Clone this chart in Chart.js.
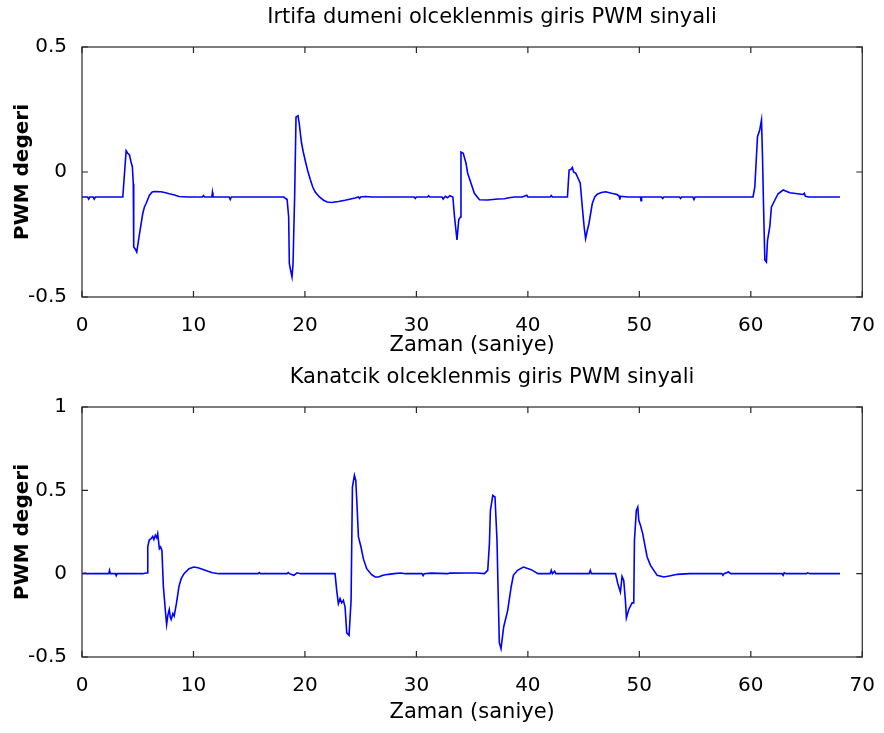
<!DOCTYPE html>
<html>
<head>
<meta charset="utf-8">
<script src="https://cdn.jsdelivr.net/npm/chart.js@4.4.1/dist/chart.umd.min.js"></script>
<style>
  body { margin: 0; background: #fff; }
  .panel { position: absolute; left: 0; width: 884px; }
</style>
</head>
<body>
<div class="panel" style="top:0;height:366px"><canvas id="topChart" width="884" height="366"></canvas></div>
<div class="panel" style="top:366px;height:367px"><canvas id="bottomChart" width="884" height="367"></canvas></div>
<script>
// Irtifa dumeni (elevator) - time in seconds, scaled PWM
const topTime = [0, 0.5, 0.6, 0.7, 1.0, 1.1, 1.2, 3.66, 3.96, 4.1, 4.26, 4.4, 4.52, 4.6, 4.64, 4.8, 4.91, 5.15, 5.45, 5.6, 5.75, 6.05, 6.3, 6.49, 7.08, 7.5, 7.83, 8.3, 8.7, 9.5, 10.8, 10.9, 11.0, 11.65, 11.7, 11.75, 13.2, 13.3, 13.4, 18.1, 18.4, 18.54, 18.6, 18.7, 18.84, 18.93, 19.08, 19.2, 19.38, 19.5, 19.6, 19.7, 19.85, 20.03, 20.25, 20.48, 20.7, 20.92, 21.3, 21.67, 22.0, 22.4, 23.0, 23.6, 24.5, 24.8, 24.9, 25.0, 25.4, 26.0, 29.8, 29.9, 30.0, 31.0, 31.1, 31.2, 32.3, 32.4, 32.6, 32.8, 33.0, 33.27, 33.42, 33.64, 33.8, 33.95, 34.0, 34.2, 34.45, 34.6, 34.9, 35.2, 35.66, 36.4, 37.3, 37.9, 38.3, 38.8, 39.5, 39.9, 40.0, 42.0, 42.1, 42.2, 43.55, 43.7, 43.85, 43.99, 44.1, 44.3, 44.7, 44.88, 45.05, 45.18, 45.3, 45.48, 45.78, 46.0, 46.22, 46.6, 46.97, 47.5, 48.0, 48.2, 48.25, 48.3, 49.0, 50.1, 50.15, 50.2, 52.0, 52.1, 52.2, 53.6, 53.7, 53.8, 54.8, 54.9, 55.0, 60.04, 60.2, 60.36, 60.6, 60.8, 60.96, 61.05, 61.15, 61.26, 61.4, 61.5, 61.7, 61.85, 62.15, 62.45, 62.9, 63.5, 64.2, 64.7, 64.8, 64.9, 65.2, 68.0];
const topPwm = [-0.1, -0.1, -0.108, -0.1, -0.1, -0.108, -0.1, -0.1, 0.085, 0.075, 0.068, 0.04, 0.02, -0.047, -0.3, -0.31, -0.32, -0.25, -0.166, -0.14, -0.126, -0.093, -0.08, -0.078, -0.079, -0.083, -0.087, -0.092, -0.098, -0.1, -0.1, -0.094, -0.1, -0.1, -0.082, -0.1, -0.1, -0.11, -0.1, -0.1, -0.11, -0.18, -0.366, -0.39, -0.42, -0.37, -0.09, 0.22, 0.225, 0.19, 0.15, 0.115, 0.08, 0.045, 0.005, -0.03, -0.06, -0.08, -0.1, -0.113, -0.12, -0.122, -0.118, -0.113, -0.104, -0.1, -0.106, -0.1, -0.098, -0.1, -0.1, -0.106, -0.1, -0.1, -0.095, -0.1, -0.1, -0.108, -0.097, -0.103, -0.095, -0.1, -0.18, -0.272, -0.19, -0.18, 0.08, 0.075, 0.035, -0.005, -0.045, -0.085, -0.111, -0.112, -0.108, -0.107, -0.103, -0.1, -0.1, -0.093, -0.1, -0.1, -0.094, -0.1, -0.1, 0.008, 0.01, 0.018, 0.0, -0.005, -0.045, -0.139, -0.22, -0.266, -0.24, -0.206, -0.126, -0.1, -0.089, -0.082, -0.079, -0.085, -0.09, -0.097, -0.11, -0.097, -0.1, -0.1, -0.115, -0.1, -0.1, -0.106, -0.1, -0.1, -0.106, -0.1, -0.1, -0.11, -0.1, -0.1, -0.1, -0.06, 0.141, 0.168, 0.208, 0.06, -0.15, -0.352, -0.36, -0.273, -0.22, -0.14, -0.113, -0.087, -0.072, -0.083, -0.087, -0.09, -0.085, -0.097, -0.1, -0.1];

// Kanatcik (aileron)
const bottomTime = [0, 0.3, 0.5, 2.4, 2.47, 2.55, 3.0, 3.07, 3.15, 5.45, 5.84, 5.9, 6.04, 6.2, 6.34, 6.45, 6.58, 6.7, 6.79, 6.94, 7.05, 7.17, 7.3, 7.47, 7.59, 7.7, 7.83, 7.92, 8.0, 8.15, 8.27, 8.48, 8.7, 8.9, 9.15, 9.6, 10.04, 10.4, 10.8, 11.3, 11.7, 12.3, 15.8, 15.9, 16.0, 18.4, 18.5, 18.6, 19.0, 19.3, 19.6, 22.7, 22.85, 23.0, 23.15, 23.3, 23.45, 23.6, 23.75, 23.96, 24.14, 24.26, 24.44, 24.56, 24.65, 24.8, 25.03, 25.24, 25.54, 25.98, 26.3, 26.6, 27.0, 27.5, 28.0, 28.6, 29.0, 30.5, 30.6, 30.7, 31.3, 32.8, 33.0, 34.5, 35.4, 36.1, 36.4, 36.55, 36.64, 36.85, 37.05, 37.23, 37.35, 37.44, 37.59, 37.83, 38.19, 38.5, 38.7, 39.07, 39.6, 40.3, 40.9, 42.0, 42.1, 42.2, 42.4, 42.5, 45.5, 45.6, 45.7, 47.86, 48.07, 48.3, 48.45, 48.6, 48.75, 48.84, 49.05, 49.35, 49.5, 49.56, 49.73, 49.86, 49.95, 50.1, 50.3, 50.7, 51.0, 51.6, 52.2, 52.8, 53.4, 54.5, 57.4, 57.5, 57.6, 58.0, 58.2, 62.8, 62.9, 63.0, 63.2, 65.0, 65.1, 65.3, 68.0];
const bottomPwm = [0, 0.003, 0, 0, 0.02, 0, 0, -0.012, 0, 0, 0.005, 0.163, 0.203, 0.21, 0.223, 0.205, 0.23, 0.215, 0.24, 0.15, 0.16, 0.14, -0.076, -0.215, -0.305, -0.25, -0.215, -0.26, -0.275, -0.24, -0.255, -0.175, -0.076, -0.03, 0, 0.03, 0.04, 0.035, 0.026, 0.015, 0.006, 0, 0, 0.006, 0, 0, 0.006, 0, -0.01, 0.005, 0, 0, -0.1, -0.18, -0.15, -0.175, -0.16, -0.2, -0.355, -0.37, -0.16, 0.52, 0.59, 0.56, 0.44, 0.22, 0.16, 0.09, 0.03, -0.006, -0.02, -0.02, -0.01, -0.004, 0, 0.004, 0, 0, -0.012, 0, 0.003, 0, 0.003, 0.004, 0.004, 0, 0.02, 0.18, 0.38, 0.47, 0.46, 0.2, -0.16, -0.414, -0.45, -0.32, -0.22, -0.08, -0.01, 0.02, 0.04, 0.024, 0, 0, 0.02, 0, 0.015, 0, 0, 0.02, 0, 0, -0.06, -0.11, -0.016, -0.04, -0.16, -0.265, -0.215, -0.175, -0.175, 0.2, 0.38, 0.4, 0.32, 0.29, 0.24, 0.1, 0.05, -0.01, -0.02, -0.012, -0.004, 0, 0, -0.01, 0, 0.01, 0, 0, -0.01, 0.005, 0, 0, 0.005, 0, 0];

const xLabel = 'Zaman (saniye)';
const yLabel = 'PWM degeri';
const FONT = 'DejaVu Sans';

// box around the plot with inward ticks on all four sides (matlab look)
const boxPlugin = {
  id: 'boxTicks',
  afterDraw(chart) {
    const { ctx, chartArea: a, scales } = chart;
    const len = 6;
    ctx.save();
    ctx.strokeStyle = '#262626';
    ctx.lineWidth = 1.2;
    ctx.strokeRect(a.left, a.top, a.right - a.left, a.bottom - a.top);
    ctx.beginPath();
    scales.x.ticks.forEach((t) => {
      const px = scales.x.getPixelForValue(t.value);
      ctx.moveTo(px, a.bottom); ctx.lineTo(px, a.bottom - len);
      ctx.moveTo(px, a.top); ctx.lineTo(px, a.top + len);
    });
    scales.y.ticks.forEach((t) => {
      const py = scales.y.getPixelForValue(t.value);
      ctx.moveTo(a.left, py); ctx.lineTo(a.left + len, py);
      ctx.moveTo(a.right, py); ctx.lineTo(a.right - len, py);
    });
    ctx.stroke();
    ctx.restore();
  }
};

// title placed like the matlab figure (not centered on canvas)
const panelTitle = {
  id: 'panelTitle',
  afterDraw(chart, args, opts) {
    const { ctx } = chart;
    ctx.save();
    ctx.font = `21px '${FONT}'`;
    ctx.fillStyle = '#000';
    ctx.textAlign = 'center';
    ctx.textBaseline = 'alphabetic';
    ctx.fillText(opts.text, opts.x, opts.y);
    ctx.restore();
  }
};

function makeChart(id, times, values, yMin, yMax, title, titleY, padTop, xHeight) {
  const points = times.map((t, i) => ({ x: t, y: values[i] }));
  return new Chart(document.getElementById(id), {
    type: 'line',
    data: {
      datasets: [{
        data: points,
        borderColor: '#0000ff',
        borderWidth: 1.6,
        pointRadius: 0,
        tension: 0,
        fill: false,
      }],
    },
    options: {
      responsive: false,
      animation: false,
      devicePixelRatio: 1,
      layout: { padding: { top: padTop, right: 18, bottom: 0, left: 0 } },
      plugins: {
        legend: { display: false },
        tooltip: { enabled: false },
        panelTitle: { text: title, x: 492, y: titleY },
      },
      scales: {
        x: {
          type: 'linear',
          min: 0,
          max: 70,
          afterFit: (scale) => { scale.height = xHeight; },
          grid: { display: false },
          border: { display: false },
          ticks: {
            stepSize: 10,
            autoSkip: false,
            maxRotation: 0,
            padding: 9,
            color: '#000',
            font: { family: FONT, size: 20 },
          },
          title: {
            display: true,
            text: xLabel,
            color: '#000',
            font: { family: FONT, size: 21 },
            padding: { top: 0, bottom: 8 },
          },
        },
        y: {
          min: yMin,
          max: yMax,
          afterFit: (scale) => { scale.width = 82; },
          grid: { display: false },
          border: { display: false },
          ticks: {
            stepSize: 0.5,
            padding: 7,
            color: '#000',
            font: { family: FONT, size: 20 },
            callback: (value) => String(value),
          },
          title: {
            display: true,
            text: yLabel,
            color: '#000',
            font: { family: FONT, size: 20, weight: 'bold' },
            padding: { top: 11, bottom: 0 },
          },
        },
      },
    },
    plugins: [boxPlugin, panelTitle],
  });
}

makeChart('topChart', topTime, topPwm, -0.5, 0.5, 'Irtifa dumeni olceklenmis giris PWM sinyali', 23, 47, 69);
makeChart('bottomChart', bottomTime, bottomPwm, -0.5, 1, 'Kanatcik olceklenmis giris PWM sinyali', 17, 41, 76);
</script>
</body>
</html>
